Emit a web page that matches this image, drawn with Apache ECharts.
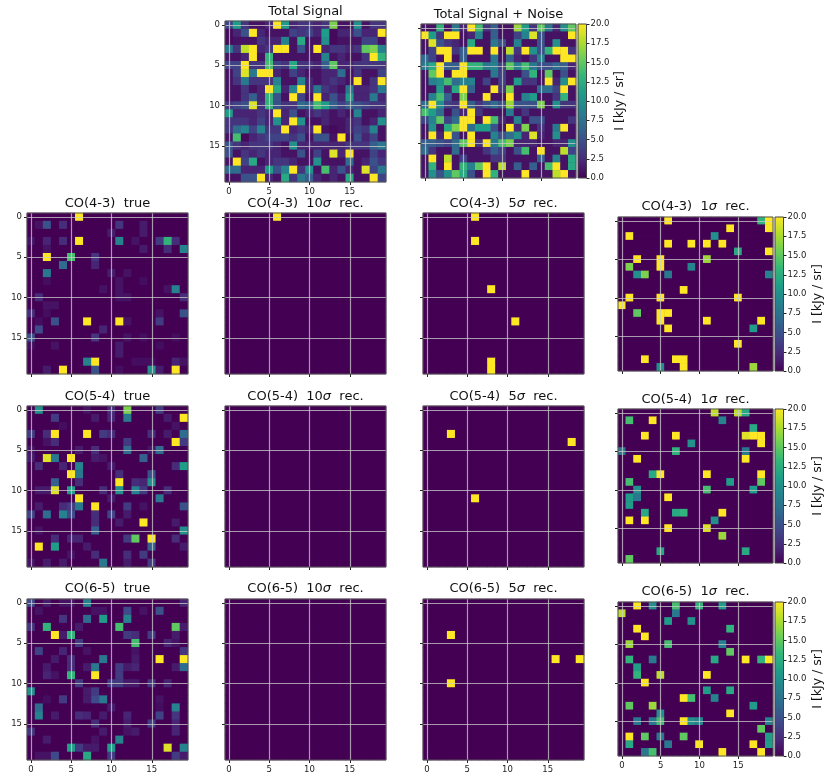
<!DOCTYPE html>
<html>
<head>
<meta charset="utf-8">
<script src="https://cdn.jsdelivr.net/npm/echarts@6/dist/echarts.min.js"></script>
<style>html,body{margin:0;padding:0;background:#fff}#chart{width:830px;height:780px}</style>
</head>
<body>
<div id="chart"></div>
<script>
const categories = ['0','1','2','3','4','5','6','7','8','9','10','11','12','13','14','15','16','17','18','19'];
const colorbarMax = 20;
const colorbarStep = 2.5;
const viridis = ['#440154','#482878','#3e4989','#31688e','#26828e','#1f9e89','#35b779','#6ece58','#b5de2b','#fde725'];

// dense maps, one row per line
const totalSignal = [
  [4,11,3,1,1,2,20,11,2,3,3,2,3,16,1,1,10,1,3,3],
  [0.5,2,5,20,2,1,1,1,4,3,4,2,11,0.5,2,2,5,2,2,20],
  [0.5,1,1,1,3,2,2,9,1,12,1,1,10,0.5,1,1,1,4,4,1],
  [8,3,18,20,2,3,20,20,1,5,1,20,2,3,3,2,3,15,16,9],
  [1,1,2,20,1,13,1,1,1,1,1,1,9,1,2,1,1,3,20,13],
  [4,4,20,3,3,14,4,3,12,3,3,2,6,15,2,2,3,3,3,3],
  [1,4,19,8,20,20,2,1,4,2,1,1,2,2,7,1,3,1,1,4],
  [1,3,8,3,3,3,9,1,1,9,2,1,2,3,2,1,20,1,3,20],
  [1,1,3,1,2,20,12,2,9,20,2,8,3,2,1,8,2,2,3,8],
  [1,1,3,6,2,13,5,1,20,4,1,20,2,5,2,11,2,2,8,2],
  [3,4,5,19,3,13,5,3,3,7,6,14,11,6,4,6,5,4,3,3],
  [11,2,2,2,3,2,20,2,5,1,2,3,2,1,2,1,9,1,1,2],
  [3,3,3,2,4,2,10,2,20,10,1,1,2,1,1,2,3,1,2,10],
  [3,7,9,4,9,3,3,20,2,3,2,20,1,0.5,1,2,4,3,9,1],
  [1,14,0.5,2,3,4,4,4,3,5,1,5,5,1,20,1,5,2,4,1],
  [5,3,2,3,3,3,2,1,10,2,2,2,2,2,2,3,3,3,6,8],
  [5,1,3,2,3,2,2,1,1,5,1,4,1,19,2,20,1,1,4,2],
  [1,20,4,12,1,2,3,3,2,1,1,10,1,1,1,7,1,2,5,3],
  [7,7,2,2,2,11,5,9,20,3,10,1,14,2,5,2,1,19,4,8],
  [1,1,5,5,20,2,1,12,3,8,6,2,1,2,1,12,1,1,20,4]
];
const signalNoise = [
  [1,1,13,1,8,2,20,14,3,6,1,1,17,11,3,15,8,2,10,15],
  [20,11,3,20,20,1,2,9,1,6,1,1,4,9,19,5,1,1,1,20],
  [1,19,5,3,2,1,12,1,1,8,5,1,9,1,1,5,1,10,1,1],
  [1,4,20,20,3,6,20,20,1,20,1,18,3,20,10,5,13,20,20,3],
  [7,4,1,20,1,6,1,1,1,8,1,6,2,1,3,9,1,1,20,20],
  [8,12,20,6,6,20,13,13,8,9,4,15,9,14,8,5,5,7,6,2],
  [1,15,20,1,20,20,1,1,1,8,4,1,1,5,13,1,15,1,5,1],
  [1,9,10,14,7,9,9,1,4,1,4,1,11,3,3,1,20,2,10,20],
  [1,1,11,2,12,20,6,1,1,20,3,16,1,1,1,7,7,4,20,1],
  [1,9,14,6,1,16,1,1,20,1,1,20,1,9,11,1,1,3,13,1],
  [7,20,10,4,3,20,6,3,5,7,5,17,5,5,5,16,1,10,3,3],
  [14,11,7,1,5,2,20,3,1,1,1,8,1,3,1,1,1,1,1,1],
  [4,9,15,4,7,20,20,1,20,14,2,1,9,1,5,5,1,1,1,3],
  [1,10,1,12,16,20,7,11,11,5,1,20,2,16,1,3,1,8,20,1],
  [1,20,2,20,5,1,20,1,1,9,5,7,10,2,19,2,1,10,1,1],
  [6,6,5,4,7,15,20,3,20,8,14,16,2,2,2,1,1,2,2,10],
  [7,3,1,1,7,1,1,1,3,6,4,1,5,14,1,20,1,1,18,4],
  [1,20,1,18,1,4,1,1,1,3,3,1,1,1,1,6,1,9,1,12],
  [1,13,1,20,1,13,9,15,20,1,18,1,6,1,6,1,14,20,1,12],
  [1,10,5,10,15,12,5,1,20,13,1,1,1,20,1,1,1,18,20,1]
];

// sparse maps: [column, row, value], everything else is zero
const co43True = [[6,0,20],[2,1,5],[4,1,2.5],[1,1,1],[11,1,3],[14,1,1.5],[14,2,1.5],[10,2,1.5],[6,3,20],[11,3,9],[2,3,2],[4,3,2.5],[0,3,1],[16,3,3.5],[17,3,13],[18,3,2.5],[13,3,1],[19,4,9],[17,4,2.5],[14,4,1.5],[2,4,1],[2,5,20],[5,5,14],[8,5,3],[4,6,7],[8,6,2],[2,7,8],[10,7,1.5],[12,7,1],[11,8,1],[2,8,0.7],[14,8,0.7],[18,9,9],[17,9,1],[9,9,1],[11,9,1],[1,10,2.5],[19,10,2.5],[11,10,1],[12,10,1],[2,11,1],[3,11,1],[0,12,2.5],[19,12,5],[16,12,1],[2,12,0.7],[3,13,5],[7,13,20],[11,13,20],[16,13,3.5],[1,13,0.7],[12,13,1],[1,14,4.5],[9,14,2],[0,15,5],[8,15,3],[12,15,1],[14,15,0.7],[18,15,0.7],[3,16,1],[0,16,0.7],[11,16,1.5],[16,16,0.7],[11,17,1.5],[7,18,9],[8,18,20],[18,18,2],[19,18,1],[13,18,0.7],[14,18,0.7],[15,18,0.7],[4,19,20],[8,19,5],[15,19,10],[16,19,1.5],[18,19,20],[2,19,1.5],[11,19,0.7]];
const co43Rec10 = [[6,0,20]];
const co43Rec5 = [[6,0,20],[6,3,20],[8,9,20],[11,13,20],[8,18,20],[8,19,20]];
const co43Rec1 = [[6,0,20],[18,0,13],[19,0,20],[19,1,20],[14,1,20],[1,2,20],[12,2,10],[6,3,20],[9,3,20],[11,3,20],[13,3,20],[15,4,12],[19,4,20],[2,5,20],[5,5,20],[11,5,17],[1,6,16],[5,6,20],[9,6,9],[2,7,10],[3,7,16],[6,7,8],[19,7,9],[8,9,20],[1,10,20],[5,10,20],[15,10,20],[0,11,20],[2,12,15],[5,12,20],[6,12,20],[5,13,20],[11,13,20],[18,13,20],[6,14,20],[17,14,11],[15,16,20],[3,18,20],[7,18,20],[8,18,20],[8,19,20],[5,19,10],[17,19,17]];

const co54True = [[1,0,10],[12,0,16],[10,0,2.5],[16,0,3.5],[7,0,1],[3,1,3.5],[8,1,1.5],[12,1,8],[19,1,20],[17,1,1.5],[10,1,2],[18,2,1],[4,2,0.7],[0,3,3.5],[2,3,2.5],[3,3,20],[7,3,20],[9,3,3.5],[10,3,2.5],[15,3,2.5],[17,3,1.5],[19,3,7],[3,4,2.5],[18,4,20],[19,4,3.5],[12,4,3.5],[2,4,1],[12,5,7],[16,5,7],[8,5,2.5],[6,5,1.5],[0,5,1],[15,5,1],[2,6,19],[3,6,8],[5,6,20],[14,6,6],[0,6,1.5],[8,6,1.5],[9,6,1],[6,7,9],[19,7,11],[1,7,2.5],[4,7,2],[10,7,1.5],[18,7,2.5],[5,8,20],[6,8,8],[11,8,2.5],[15,8,5],[3,9,6],[6,9,2.5],[11,9,20],[13,9,2.5],[14,9,2],[15,9,10],[3,10,19],[5,10,11],[11,10,10],[13,10,9],[14,10,3.5],[1,10,1.5],[2,10,1.5],[9,10,2.5],[17,10,2.5],[6,11,20],[16,11,8],[10,11,1.5],[6,12,8],[8,12,20],[19,12,5],[12,12,3.5],[5,12,3.5],[4,12,2.5],[1,12,1.5],[14,12,1],[0,13,4],[2,13,7],[4,13,9],[5,13,4.5],[10,13,4],[8,13,2.5],[12,13,1.5],[14,14,20],[8,14,2.5],[11,14,1.5],[18,14,1.5],[8,15,6],[19,15,10],[1,15,1],[13,16,15],[15,16,20],[3,16,2.5],[5,16,2],[6,16,2],[18,16,2.5],[12,16,3.5],[1,17,20],[3,17,11],[15,17,6],[7,17,1.5],[19,17,1.5],[8,18,2.5],[12,18,2.5],[14,18,3.5],[5,18,1],[9,19,8],[15,19,3.5],[0,19,1],[2,19,1.5],[4,19,1.5],[12,19,1.5]];
const co54Rec10 = [];
const co54Rec5 = [[3,3,20],[18,4,20],[6,11,20]];
const co54Rec1 = [[12,0,18],[15,0,18],[16,0,12],[1,1,14],[4,1,20],[13,1,9],[17,2,12],[3,3,20],[7,3,20],[16,3,19],[17,3,20],[18,3,20],[18,4,20],[9,4,10],[0,5,8],[7,5,13],[16,5,8],[2,6,20],[16,6,20],[4,8,12],[5,8,20],[11,8,20],[18,8,20],[1,9,14],[14,9,11],[18,9,15],[2,10,10],[11,10,14],[17,10,11],[1,11,11],[2,11,8],[6,11,20],[1,12,11],[3,13,12],[7,13,12],[8,13,13],[13,13,20],[1,14,20],[3,14,20],[12,14,10],[6,15,20],[11,15,19],[13,16,17],[5,18,12],[16,18,12],[1,19,15]];

const co65True = [[0,0,4.5],[7,0,9],[19,0,2],[2,0,1.5],[4,0,1],[5,0,1],[12,1,4.5],[16,1,5],[1,1,1],[14,1,1],[8,1,1],[9,1,1],[4,2,3],[7,2,7],[9,2,11],[12,2,9],[0,3,3],[2,3,13],[11,3,14],[18,3,15],[6,3,1.5],[19,3,1.5],[3,4,20],[5,4,13],[4,4,1.5],[12,4,3.5],[13,4,2.5],[15,4,3.5],[18,4,1.5],[13,5,14],[6,5,3.5],[17,5,2],[18,5,1],[1,6,4],[4,6,2],[7,6,1],[19,6,3],[13,6,1],[3,7,1.5],[5,7,2.5],[9,7,8],[13,7,1.5],[16,7,20],[19,7,20],[2,8,1.5],[5,8,2.5],[7,8,1.5],[8,8,8],[11,8,3.5],[12,8,1.5],[13,8,2],[18,8,1.5],[19,8,7],[2,9,2],[3,9,1],[5,9,13],[8,9,20],[11,9,3.5],[6,10,3.5],[10,10,3.5],[11,10,3.5],[12,10,1.5],[13,10,1.5],[15,10,3],[17,10,2],[0,11,10],[7,11,1.5],[8,11,3.5],[4,12,3.5],[7,12,1.5],[8,12,4.5],[9,12,8],[2,12,0.7],[16,12,1],[1,13,7],[10,13,1.5],[18,13,9],[16,13,0.7],[1,14,9],[3,14,1.5],[6,14,2.5],[7,14,2],[9,14,1.5],[12,14,2],[16,14,4],[18,14,3],[8,15,2.5],[12,15,1.5],[15,15,3.5],[18,15,2],[0,16,3],[9,16,1.5],[13,16,1.5],[12,16,1],[18,16,2],[2,17,1.5],[11,17,9],[8,17,1],[5,18,11],[6,18,3.5],[7,18,1.5],[10,18,11],[17,18,19],[19,18,9],[8,18,1.5],[3,19,4.5],[7,19,12],[10,19,3.5],[18,19,3.5],[19,19,1.5],[1,19,1],[2,19,1]];
const co65Rec10 = [];
const co65Rec5 = [[3,4,20],[16,7,20],[19,7,20],[3,10,20]];
const co65Rec1 = [[2,0,20],[4,0,10],[7,0,14],[10,0,13],[13,0,11],[0,1,18],[7,1,8],[6,2,11],[9,2,10],[2,3,20],[14,3,13],[3,4,20],[1,5,17],[6,5,14],[13,5,9],[14,6,15],[1,7,13],[4,7,8],[12,7,12],[16,7,20],[18,7,13],[19,7,20],[2,8,11],[2,9,13],[5,9,18],[11,9,20],[3,10,20],[11,11,11],[14,11,12],[8,12,20],[9,12,14],[12,12,9],[1,13,15],[4,13,17],[17,13,11],[5,14,10],[14,14,20],[2,15,8],[4,15,8],[5,15,14],[8,15,20],[9,15,10],[10,15,9],[19,15,9],[18,16,15],[1,17,20],[3,17,15],[5,17,8],[8,17,15],[19,17,11],[1,18,12],[6,18,8],[10,18,20],[17,18,20],[19,18,11],[3,19,8],[4,19,14],[13,19,20],[18,19,20]];

const FONT = 'DejaVu Sans';
const TICK_COLOR = '#222';

function fromRows(rows) {
  const out = [];
  rows.forEach((row, r) => row.forEach((v, c) => out.push([c, r, v])));
  return out;
}
function fromSparse(list) {
  const rows = categories.map(() => categories.map(() => 0));
  list.forEach(([c, r, v]) => { rows[r][c] = v; });
  return fromRows(rows);
}

// left, top, width, height of each image, titleY is the title's text centre
const panels = [
  { title: 'Total Signal', data: fromRows(totalSignal), box: [225, 21, 161, 161], titleY: 11.5, xLabels: true, yLabels: true },
  { title: 'Total Signal + Noise', data: fromRows(signalNoise), box: [421, 24, 155, 154], titleY: 15, bar: 26 },

  { title: 'CO(4-3)  true', data: fromSparse(co43True), box: [27, 213, 161, 161], titleY: 204, yLabels: true },
  { title: 'CO(4-3)  10{s|σ}  rec.', data: fromSparse(co43Rec10), box: [225, 213, 161, 161], titleY: 204 },
  { title: 'CO(4-3)  5{s|σ}  rec.', data: fromSparse(co43Rec5), box: [423, 213, 161, 161], titleY: 204 },
  { title: 'CO(4-3)  1{s|σ}  rec.', data: fromSparse(co43Rec1), box: [618, 217, 155, 154], titleY: 207, bar: 28 },

  { title: 'CO(5-4)  true', data: fromSparse(co54True), box: [27, 406, 161, 161], titleY: 397, yLabels: true },
  { title: 'CO(5-4)  10{s|σ}  rec.', data: fromSparse(co54Rec10), box: [225, 406, 161, 161], titleY: 397 },
  { title: 'CO(5-4)  5{s|σ}  rec.', data: fromSparse(co54Rec5), box: [423, 406, 161, 161], titleY: 397 },
  { title: 'CO(5-4)  1{s|σ}  rec.', data: fromSparse(co54Rec1), box: [618, 409, 155, 154], titleY: 400, bar: 28 },

  { title: 'CO(6-5)  true', data: fromSparse(co65True), box: [27, 599, 161, 161], titleY: 589, xLabels: true, yLabels: true },
  { title: 'CO(6-5)  10{s|σ}  rec.', data: fromSparse(co65Rec10), box: [225, 599, 161, 161], titleY: 589, xLabels: true },
  { title: 'CO(6-5)  5{s|σ}  rec.', data: fromSparse(co65Rec5), box: [423, 599, 161, 161], titleY: 589, xLabels: true },
  { title: 'CO(6-5)  1{s|σ}  rec.', data: fromSparse(co65Rec1), box: [618, 602, 155, 154], titleY: 592, xLabels: true, bar: 28 }
];

const grid = [], xAxis = [], yAxis = [], series = [], title = [], frames = [];
const gridLine = { show: true, interval: 4, alignWithLabel: true, lineStyle: { color: 'rgba(205,205,205,0.75)', width: 1.2 } };

panels.forEach((p) => {
  const [left, top, width, height] = p.box;
  const idx = grid.length;
  // the purple fill stops white showing through the seams between cells
  grid.push({ left, top, width, height, show: true, borderWidth: 0, backgroundColor: viridis[0] });
  frames.push({
    type: 'rect', z: 20, silent: true,
    shape: { x: left, y: top, width, height },
    style: { fill: null, stroke: '#555', lineWidth: 1 }
  });
  xAxis.push({
    type: 'category', gridIndex: idx, data: categories, z: 5, position: 'bottom',
    axisLine: { show: false },
    axisTick: { show: true, interval: 4, alignWithLabel: true, length: 3, lineStyle: { color: TICK_COLOR } },
    axisLabel: { show: !!p.xLabels, interval: 4, fontSize: 8.5, fontFamily: FONT, color: TICK_COLOR, margin: 5 },
    splitLine: gridLine
  });
  yAxis.push({
    type: 'category', gridIndex: idx, data: categories, inverse: true, z: 5,
    axisLine: { show: false },
    axisTick: { show: true, interval: 4, alignWithLabel: true, length: 3, lineStyle: { color: TICK_COLOR } },
    axisLabel: { show: !!p.yLabels, interval: 4, fontSize: 8.5, fontFamily: FONT, color: TICK_COLOR, margin: 5 },
    splitLine: gridLine
  });
  series.push({
    type: 'heatmap', xAxisIndex: idx, yAxisIndex: idx, data: p.data,
    itemStyle: { borderWidth: 0 }, emphasis: { disabled: true }, silent: true, progressive: 0
  });
  title.push({
    text: p.title, left: left + width / 2, top: p.titleY - 7.5, textAlign: 'center', padding: 0,
    textStyle: {
      fontFamily: FONT, fontSize: 13, fontWeight: 'normal', color: '#111', lineHeight: 15,
      rich: { s: { fontFamily: FONT, fontSize: 13, fontStyle: 'italic', color: '#111', lineHeight: 15 } }
    }
  });
});

// colour bars: a gradient filled grid with a value axis on its right
const colorStops = viridis.map((color, i) => ({ offset: i / (viridis.length - 1), color }));
panels.filter((p) => p.bar).forEach((p) => {
  const [left, top, width, height] = p.box;
  const idx = grid.length;
  grid.push({
    left: left + width + 2, top, width: 8.5, height, show: true, z: 6, borderColor: '#444', borderWidth: 1,
    backgroundColor: { type: 'linear', x: 0, y: 1, x2: 0, y2: 0, colorStops }
  });
  xAxis.push({ type: 'category', gridIndex: idx, data: ['bar'], show: false });
  yAxis.push({
    type: 'value', gridIndex: idx, position: 'right', min: 0, max: colorbarMax, interval: colorbarStep,
    axisLine: { show: false }, splitLine: { show: false },
    axisTick: { show: true, length: 3, lineStyle: { color: TICK_COLOR } },
    axisLabel: { fontSize: 8.5, fontFamily: FONT, color: TICK_COLOR, margin: 4, formatter: (v) => v.toFixed(1) },
    name: 'I [kJy / sr]', nameLocation: 'middle', nameRotate: 90, nameGap: p.bar,
    nameTextStyle: { fontFamily: FONT, fontSize: 12.5, color: '#111' }
  });
});

const chart = echarts.init(document.getElementById('chart'), null, { renderer: 'canvas' });
chart.setOption({
  animation: false,
  backgroundColor: '#fff',
  title, grid, xAxis, yAxis, series,
  graphic: { elements: frames },
  visualMap: { show: false, type: 'continuous', min: 0, max: colorbarMax, seriesIndex: panels.map((p, i) => i), inRange: { color: viridis } }
});
</script>
</body>
</html>
